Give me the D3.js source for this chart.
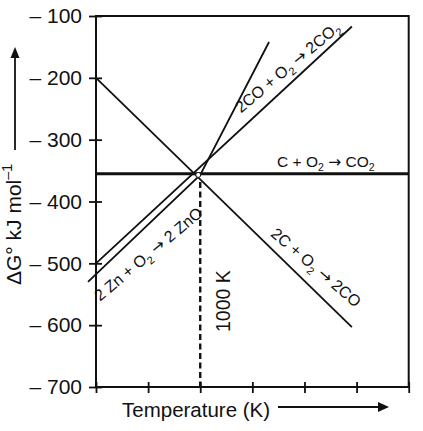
<!DOCTYPE html>
<html>
<head>
<meta charset="utf-8">
<script src="https://cdn.jsdelivr.net/npm/d3@7"></script>
<style>
  body { margin: 0; background: #fff; }
  svg { display: block; font-family: "Liberation Sans", Arial, sans-serif; }
  text { white-space: pre; }
</style>
</head>
<body>
<svg id="chart"></svg>
<script>
// Ellingham-type diagram, values (T in K, dG in kJ/mol)
const tempTicks = [0, 500, 1000, 1500, 2000, 2500, 3000];
const dgTicks = [-100, -200, -300, -400, -500, -600, -700];

const cLine   = [[0, -355], [3000, -355]];                 // C + O2 -> CO2
const c2coLine = [[0, -200], [2455, -603]];                // 2C + O2 -> 2CO
const coLine  = [[0, -500], [2455, -117]];                 // 2CO + O2 -> 2CO2
const znLine  = [[-77, -530], [1000, -357], [1660, -142]]; // 2Zn + O2 -> 2ZnO
const crossT = 1000;
const crossG = -357;

// label parts: [text, 0 normal | 1 subscript | -1 superscript | 2 arrow]
const labelC   = [['C + O', 0], ['2', 1], [' ', 0], ['\u2192', 2], [' CO', 0], ['2', 1]];
const labelCO  = [['2CO + O', 0], ['2', 1], [' ', 0], ['\u2192', 2], [' 2CO', 0], ['2', 1]];
const labelZn  = [['2 Zn + O', 0], ['2', 1], [' ', 0], ['\u2192', 2], [' 2 ZnO', 0]];
const label2C  = [['2C + O', 0], ['2', 1], [' ', 0], ['\u2192', 2], [' 2CO', 0]];
const labelY   = [['\u0394G\u00b0 kJ mol', 0], ['\u20131', -1]];

const W = 423, H = 431;
const margin = {top: 16, right: 14.3, bottom: 44, left: 96};

const svg = d3.select('#chart')
  .attr('width', W)
  .attr('height', H);

const x = d3.scaleLinear()
  .domain([0, 3000])
  .range([margin.left, W - margin.right]);

const y = d3.scaleLinear()
  .domain([-700, -100])
  .range([H - margin.bottom, margin.top]);

const ink = '#111';

function addRich(sel, parts, size) {
  let cur = 0;
  parts.forEach(([s, k]) => {
    const target = k === 1 ? size * 0.28 : k === -1 ? -size * 0.42 : 0;
    const ts = sel.append('tspan')
      .attr('dy', target - cur)
      .attr('font-size', (k === 1 || k === -1) ? size * 0.68 : size)
      .text(s);
    if (k === 2) ts.attr('font-family', '"DejaVu Sans", sans-serif');
    cur = target;
  });
}

function valueAt(points, t) {
  for (let i = 1; i < points.length; i++) {
    const [t0, g0] = points[i - 1], [t1, g1] = points[i];
    if (t <= t1 || i === points.length - 1) return g0 + (g1 - g0) * (t - t0) / (t1 - t0);
  }
}

// frame
svg.append('rect')
  .attr('x', x(0))
  .attr('y', y(-100))
  .attr('width', x(3000) - x(0))
  .attr('height', y(-700) - y(-100))
  .attr('fill', 'none')
  .attr('stroke', ink)
  .attr('stroke-width', 2);

// y axis
const yAxisG = svg.append('g')
  .attr('transform', `translate(${x(0)},0)`)
  .call(d3.axisLeft(y).tickValues(dgTicks).tickSize(7).tickPadding(7)
    .tickFormat(d => '\u2013 ' + (-d)));
yAxisG.select('.domain').remove();
yAxisG.attr('font-size', 21).attr('font-family', null);
yAxisG.selectAll('.tick line').attr('x1', 6).attr('stroke', ink).attr('stroke-width', 1.8);
yAxisG.selectAll('.tick text').attr('fill', ink);

// x axis
const xAxisG = svg.append('g')
  .attr('transform', `translate(0,${y(-700)})`)
  .call(d3.axisBottom(x).tickValues(tempTicks).tickSize(6).tickFormat(''));
xAxisG.select('.domain').remove();
xAxisG.selectAll('.tick line').attr('y1', -5).attr('stroke', ink).attr('stroke-width', 1.8);

// reaction lines
const line = d3.line()
  .x(d => x(d[0]))
  .y(d => y(d[1]));

svg.append('path')
  .datum(cLine)
  .attr('fill', 'none')
  .attr('stroke', ink)
  .attr('stroke-width', 3)
  .attr('d', line);

[c2coLine, coLine, znLine].forEach(pts => {
  svg.append('path')
    .datum(pts)
    .attr('fill', 'none')
    .attr('stroke', ink)
    .attr('stroke-width', 1.8)
    .attr('stroke-linejoin', 'miter')
    .attr('d', line);
});

// 1000 K marker
svg.append('line')
  .attr('x1', x(crossT)).attr('x2', x(crossT))
  .attr('y1', y(crossG) + 7).attr('y2', y(-700))
  .attr('stroke', ink)
  .attr('stroke-width', 2.4)
  .attr('stroke-dasharray', '6,3.5');

svg.append('circle')
  .attr('cx', x(crossT) - 2)
  .attr('cy', y(crossG))
  .attr('r', 2.5)
  .attr('fill', '#fff')
  .attr('stroke', ink)
  .attr('stroke-width', 1);

// line labels
function lineLabel(points, t, angle, dx, dy, parts, size) {
  const g = svg.append('g')
    .attr('transform', `translate(${x(t)},${y(valueAt(points, t))}) rotate(${angle})`);
  const txt = g.append('text').attr('x', dx).attr('y', dy).attr('fill', ink);
  addRich(txt, parts, size);
}

lineLabel(coLine, 1391, -40, 10, -12, labelCO, 16);
lineLabel(znLine, -77, -40, -3.7, 23, labelZn, 16);
lineLabel(c2coLine, 1667, 40.5, -7.7, -9, label2C, 16);

const cText = svg.append('text')
  .attr('x', x(1737))
  .attr('y', y(cLine[0][1]) - 7)
  .attr('fill', ink);
addRich(cText, labelC, 15.5);

svg.append('text')
  .attr('transform', `translate(${x(crossT) + 30},${y(-700) - 55}) rotate(-90)`)
  .attr('font-size', 19.5)
  .attr('fill', ink)
  .text('1000 K');

// axis titles with arrows
const yTitle = svg.append('text')
  .attr('transform', 'translate(21,285) rotate(-90)')
  .attr('fill', ink);
addRich(yTitle, labelY, 21);

svg.append('line')
  .attr('x1', 15).attr('x2', 15)
  .attr('y1', 150).attr('y2', 56)
  .attr('stroke', ink).attr('stroke-width', 1.8);
svg.append('path')
  .attr('d', 'M15,47 L10.5,58 L19.5,58 Z')
  .attr('fill', ink);

svg.append('text')
  .attr('x', 122)
  .attr('y', 417)
  .attr('font-size', 20.5)
  .attr('fill', ink)
  .text('Temperature (K)');

svg.append('line')
  .attr('x1', 278).attr('x2', 380)
  .attr('y1', 407).attr('y2', 407)
  .attr('stroke', ink).attr('stroke-width', 1.8);
svg.append('path')
  .attr('d', 'M389,407 L378,402 L378,412 Z')
  .attr('fill', ink);
</script>
</body>
</html>
